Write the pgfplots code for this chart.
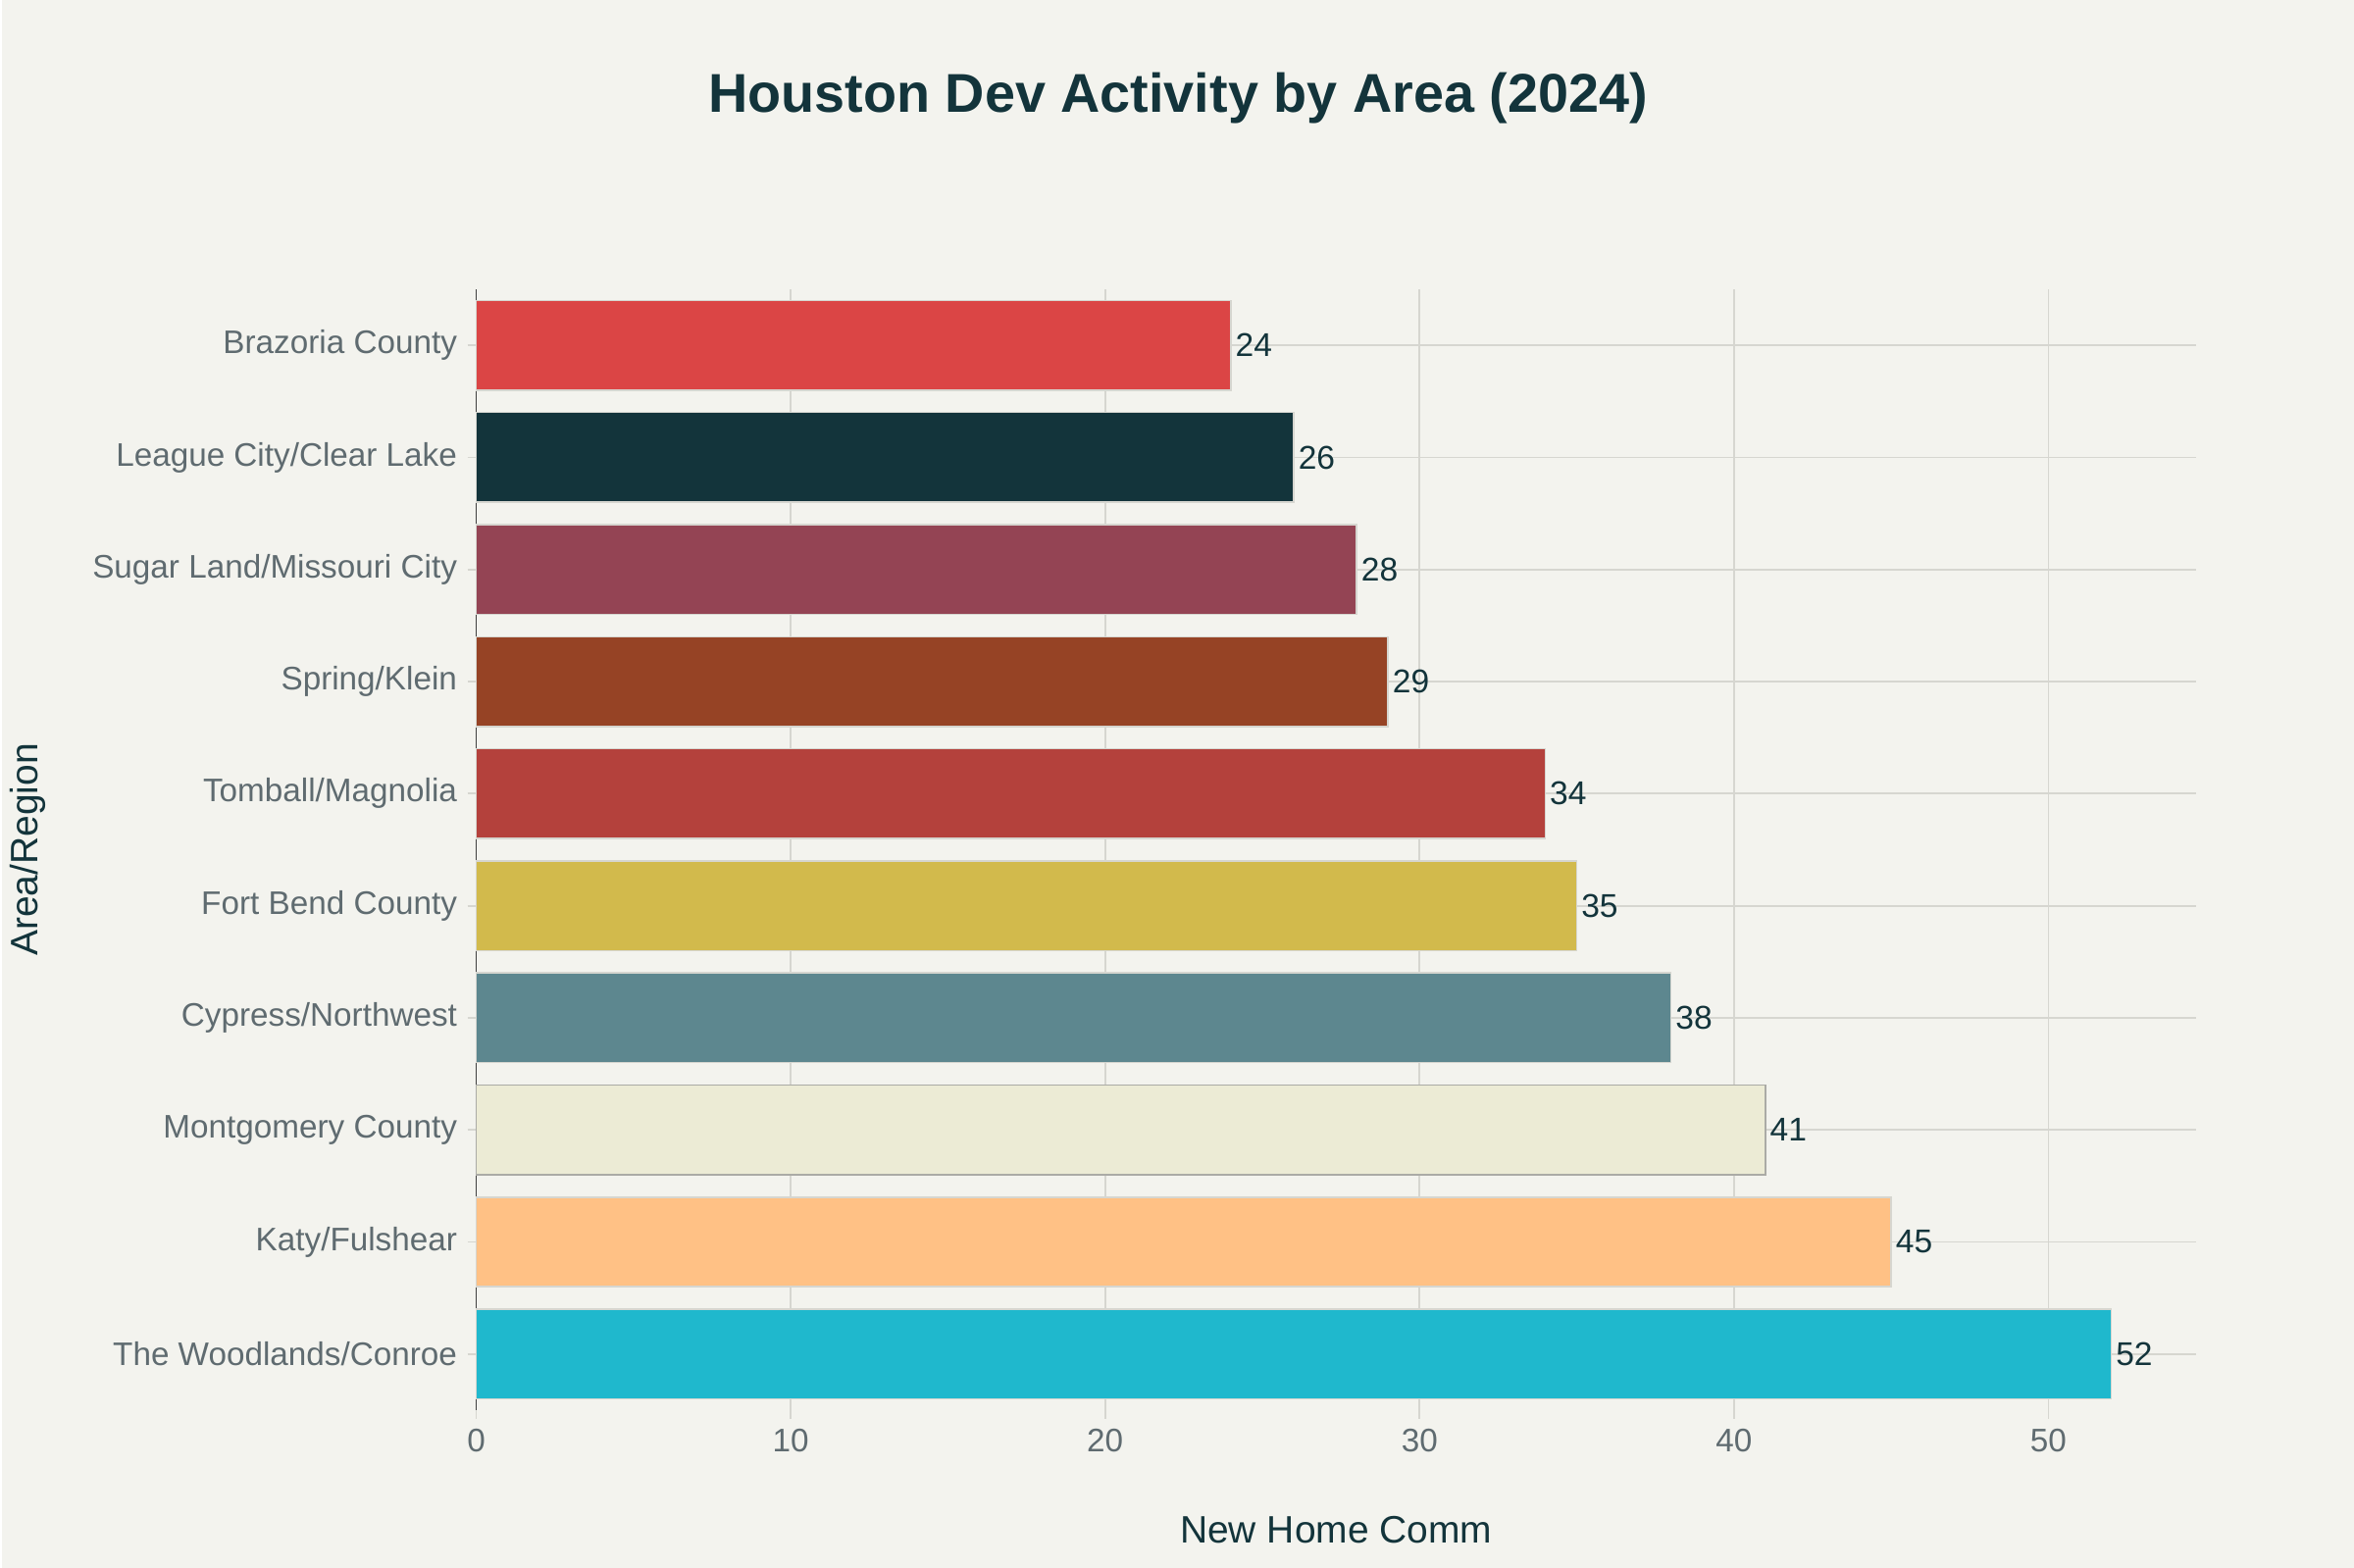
\documentclass[border=0pt]{standalone}
\usepackage{fontspec}
\setmainfont{Liberation Sans}
\usepackage{pgfplots}
\pgfplotsset{compat=1.18}

\definecolor{bgc}{HTML}{F3F3EE}
\definecolor{dark}{HTML}{13343B}
\definecolor{tickc}{HTML}{5F6B70}
\definecolor{gridc}{HTML}{D6D6D0}
\definecolor{c1}{HTML}{1FB8CD}
\definecolor{c2}{HTML}{FFC185}
\definecolor{c3}{HTML}{ECEBD5}
\definecolor{c4}{HTML}{5D878F}
\definecolor{c5}{HTML}{D2BA4C}
\definecolor{c6}{HTML}{B4413C}
\definecolor{c7}{HTML}{964325}
\definecolor{c8}{HTML}{944454}
\definecolor{c9}{HTML}{13343B}
\definecolor{c10}{HTML}{DB4545}

\begin{document}
\begin{tikzpicture}
\fill[bgc] (0,0) rectangle (800pt,533.33pt);
\node[font=\bfseries\fontsize{18.6}{21}\selectfont, text=dark] at (400pt,500pt) {Houston Dev Activity by Area (2024)};
\node[font=\fontsize{13}{15}\selectfont, text=dark] at (453.8pt,13pt) {New Home Comm};
\node[font=\fontsize{13}{15}\selectfont, text=dark, rotate=90] at (8.7pt,244.3pt) {Area/Region};
\begin{axis}[
    at={(161.3pt,53.6pt)}, anchor=south west,
    scale only axis,
    width=585pt, height=381.3pt,
    xmin=0, xmax=54.7,
    ymin=-0.5, ymax=9.5,
    xtick={0,10,20,30,40,50},
    ytick={0,1,2,3,4,5,6,7,8,9},
    yticklabels={The Woodlands/Conroe,Katy/Fulshear,Montgomery County,Cypress/Northwest,Fort Bend County,Tomball/Magnolia,Spring/Klein,Sugar Land/Missouri City,League City/Clear Lake,Brazoria County},
    axis lines*=left,
    x axis line style={draw=none},
    y axis line style={draw=black!75, line width=0.6pt},
    tick align=outside,
    major tick length=3pt,
    tick style={gridc, line width=0.6pt},
    xmajorgrids, ymajorgrids,
    grid style={gridc, line width=0.6pt},
    ticklabel style={font=\fontsize{11.1}{13}\selectfont, text=tickc},
    /pgf/number format/assume math mode=true,
    xbar, bar width=0.8, bar shift=0pt,
    nodes near coords,
    every node near coord/.append style={font=\fontsize{11.2}{13}\selectfont, text=dark, anchor=west, xshift=-2pt},
    clip=false,
]
\addplot[fill=c1, draw=gridc, line width=0.5pt] coordinates {(52,0)};
\addplot[fill=c2, draw=gridc, line width=0.5pt] coordinates {(45,1)};
\addplot[fill=c3, draw=gridc!80!black, line width=0.5pt] coordinates {(41,2)};
\addplot[fill=c4, draw=gridc, line width=0.5pt] coordinates {(38,3)};
\addplot[fill=c5, draw=gridc, line width=0.5pt] coordinates {(35,4)};
\addplot[fill=c6, draw=gridc, line width=0.5pt] coordinates {(34,5)};
\addplot[fill=c7, draw=gridc, line width=0.5pt] coordinates {(29,6)};
\addplot[fill=c8, draw=gridc, line width=0.5pt] coordinates {(28,7)};
\addplot[fill=c9, draw=gridc, line width=0.5pt] coordinates {(26,8)};
\addplot[fill=c10, draw=gridc, line width=0.5pt] coordinates {(24,9)};
\end{axis}
\end{tikzpicture}
\end{document}
